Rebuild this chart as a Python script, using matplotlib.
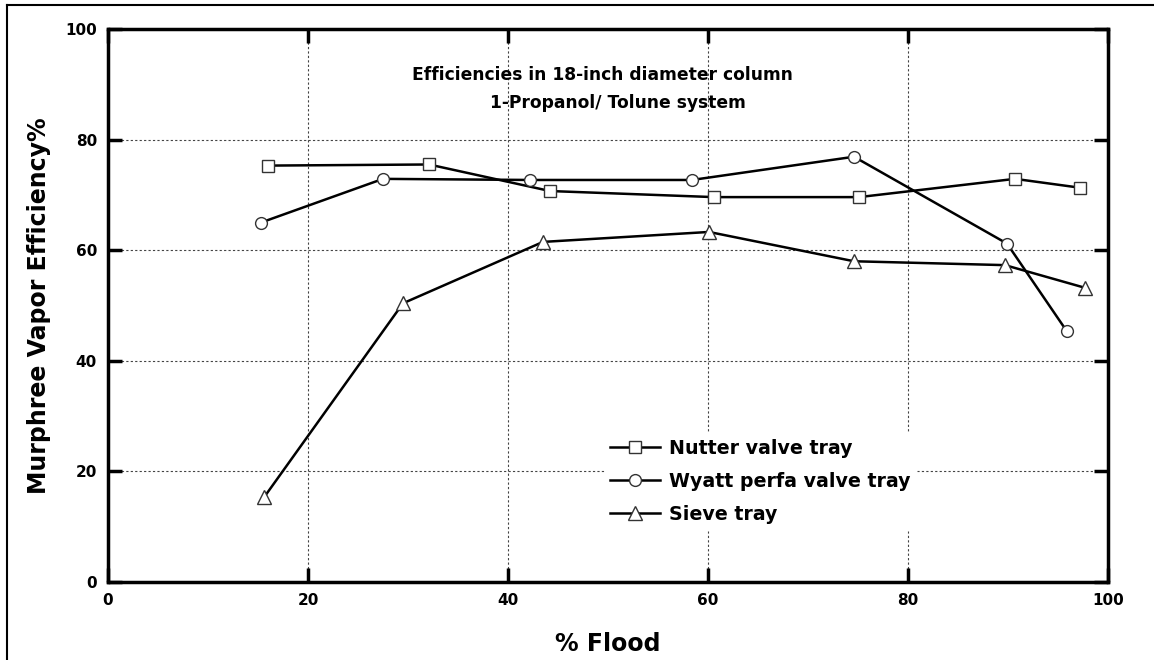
# Murphree efficiency vs % flood, 18-inch column
import numpy as np
import matplotlib.pyplot as plt
from matplotlib.lines import Line2D

plt.rcParams['font.family'] = ['DejaVu Sans']
plt.rcParams['font.weight'] = 'bold'
plt.rcParams['axes.labelweight'] = 'bold'

# data
nutter_x = [16.0, 32.1, 44.2, 60.6, 75.1, 90.7, 97.2]
nutter_y = [75.3, 75.5, 70.7, 69.6, 69.6, 72.9, 71.3]

wyatt_x = [15.3, 27.5, 42.2, 58.4, 74.6, 89.9, 95.9]
wyatt_y = [65.0, 72.9, 72.7, 72.7, 76.9, 61.2, 45.3]

sieve_x = [15.6, 29.5, 43.5, 60.1, 74.6, 89.7, 97.7]
sieve_y = [15.3, 50.4, 61.5, 63.3, 58.0, 57.3, 53.2]

labels = ['Nutter valve tray', 'Wyatt perfa valve tray', 'Sieve tray']
ticks = [0, 20, 40, 60, 80, 100]

fig = plt.figure(figsize=(11.54, 6.6), dpi=100)
ax = fig.add_axes([108/1154, 78/660, 1000/1154, 553/660])

mk = dict(color='black', lw=1.8, mfc='white', mec='#333333', mew=1.0)
ax.plot(nutter_x, nutter_y, marker='s', ms=8.5, label=labels[0], **mk)
ax.plot(wyatt_x, wyatt_y, marker='o', ms=8.5, label=labels[1], **mk)
ax.plot(sieve_x, sieve_y, marker='^', ms=9.5, label=labels[2], **mk)

ax.set_xlim(0, 100)
ax.set_ylim(0, 100)
ax.set_xticks(ticks)
ax.set_yticks(ticks)
ax.grid(True, color='#444444', linestyle=(0, (2, 2)), lw=0.8)
ax.tick_params(direction='in', length=10, width=2.5, labelsize=11,
               top=True, right=True, pad=8)
for s in ax.spines.values():
    s.set_linewidth(2.5)

ax.set_xlabel('% Flood', fontsize=17, labelpad=17)
ax.set_ylabel('Murphree Vapor Efficiency%', fontsize=17, labelpad=10)

ax.text(49.4, 91.7, 'Efficiencies in 18-inch diameter column',
        ha='center', va='center', fontsize=12.3)
ax.text(51.0, 86.6, '1-Propanol/ Tolune system',
        ha='center', va='center', fontsize=12.3)

leg = ax.legend(loc='upper left', bbox_to_anchor=(0.487, 0.287), frameon=True,
                fontsize=13.7, handlelength=2.6, borderpad=0.3, labelspacing=0.75,
                handletextpad=0.5)
leg.get_frame().set_edgecolor('white')
leg.get_frame().set_alpha(1)

# outer border of the figure (left and top edges visible)
fig.add_artist(Line2D([7/1154, 7/1154], [0, 1 - 5/660], color='black', lw=1.5))
fig.add_artist(Line2D([7/1154, 1], [1 - 5/660, 1 - 5/660], color='black', lw=1.5))

fig.savefig('out.png', dpi=100)
